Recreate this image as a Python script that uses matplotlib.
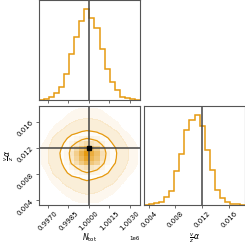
import numpy as np
import matplotlib.pyplot as plt
from matplotlib.colors import LinearSegmentedColormap
from matplotlib.ticker import ScalarFormatter

# Data
n_range = [996340, 1003760]
n_counts = [1, 2, 8, 22, 38, 77, 137, 188, 237, 273, 245, 217, 153, 94, 54, 30, 10, 5, 2, 1]
a_range = [0.0033, 0.0184]
a_counts = [1, 2, 5, 9, 25, 42, 104, 155, 227, 258, 272, 240, 165, 105, 47, 20, 9, 4, 2, 1]
n_truth = 1.0e6
a_truth = 0.012
n_ticks = [0.9970e6, 0.9985e6, 1.0000e6, 1.0015e6, 1.0030e6]
a_ticks = [0.004, 0.008, 0.012, 0.016]
n_label = r'$N_{\rm tot}$'
a_label = r'$\frac{v}{z}\alpha$'
levels_mass = [0.6, 0.87]

color = '#e69a10'
truth_color = '#444444'
spine_color = '#555555'

n_edges = np.linspace(n_range[0], n_range[1], len(n_counts) + 1)
a_edges = np.linspace(a_range[0], a_range[1], len(a_counts) + 1)
n_cent = 0.5 * (n_edges[1:] + n_edges[:-1])
a_cent = 0.5 * (a_edges[1:] + a_edges[:-1])

# joint density from the two marginals
H = np.outer(a_counts, n_counts).astype(float)
H /= H.sum()
flat = np.sort(H.ravel())[::-1]
cum = np.cumsum(flat)
V = sorted(flat[np.argmin(np.abs(cum - m))] for m in levels_mass)

fig = plt.figure(figsize=(2.45, 2.45), dpi=100)
ax_top = fig.add_axes([0.159, 0.592, 0.412, 0.408])
ax_2d = fig.add_axes([0.159, 0.163, 0.412, 0.404])
ax_right = fig.add_axes([0.588, 0.163, 0.412, 0.404])

for ax in (ax_top, ax_2d, ax_right):
    for s in ax.spines.values():
        s.set_color(spine_color)
        s.set_linewidth(0.8)
    ax.tick_params(labelsize=5, length=2.5, width=0.6, color=spine_color, pad=1)

# top marginal
ax_top.stairs(n_counts, n_edges, color=color, lw=1.1)
ax_top.axvline(n_truth, color=truth_color, lw=1.1)
ax_top.set_xlim(n_range)
ax_top.set_ylim(0, 1.1 * max(n_counts))
ax_top.set_xticks(n_ticks)
ax_top.set_xticklabels([])
ax_top.set_yticks([])

# right marginal
ax_right.stairs(a_counts, a_edges, color=color, lw=1.1)
ax_right.axvline(a_truth, color=truth_color, lw=1.1)
ax_right.set_xlim(a_range)
ax_right.set_ylim(0, 1.1 * max(a_counts))
ax_right.set_xticks(a_ticks)
ax_right.set_yticks([])
ax_right.set_xticklabels(['%.3f' % t for t in a_ticks], rotation=45)
ax_right.set_xlabel(a_label, fontsize=5.5)
ax_right.xaxis.set_label_coords(0.5, -0.27)

# 2d panel
ax_2d.contourf(n_cent, a_cent, H, levels=[V[0] / 40, V[0] / 8], colors=[color], alpha=0.07)
ax_2d.contourf(n_cent, a_cent, H, levels=[V[0] / 8, V[0]], colors=[color], alpha=0.16)
dens_cmap = LinearSegmentedColormap.from_list('dens', [(1, 1, 1, 0), color])
ax_2d.pcolormesh(n_edges, a_edges, np.where(H >= V[0], H, np.nan), cmap=dens_cmap,
                 vmin=0, vmax=H.max())
ax_2d.contour(n_cent, a_cent, H, levels=V, colors=color, linewidths=0.9)
ax_2d.axvline(n_truth, color=truth_color, lw=1.1)
ax_2d.axhline(a_truth, color=truth_color, lw=1.1)
ax_2d.plot(n_truth, a_truth, 's', color='k', ms=3)
ax_2d.set_xlim(n_range)
ax_2d.set_ylim(a_range)
ax_2d.set_xticks(n_ticks)
ax_2d.set_yticks(a_ticks)
fmt = ScalarFormatter(useOffset=False)
ax_2d.xaxis.set_major_formatter(fmt)
ax_2d.ticklabel_format(axis='x', style='sci', scilimits=(6, 6))
ax_2d.xaxis.get_offset_text().set_fontsize(4)
plt.setp(ax_2d.get_xticklabels(), rotation=45)
plt.setp(ax_2d.get_yticklabels(), rotation=45)
ax_2d.set_xlabel(n_label, fontsize=5.5)
ax_2d.set_ylabel(a_label, fontsize=5.5)
ax_2d.xaxis.set_label_coords(0.5, -0.27)
ax_2d.yaxis.set_label_coords(-0.23, 0.5)

fig.savefig('out.png', dpi=100)
